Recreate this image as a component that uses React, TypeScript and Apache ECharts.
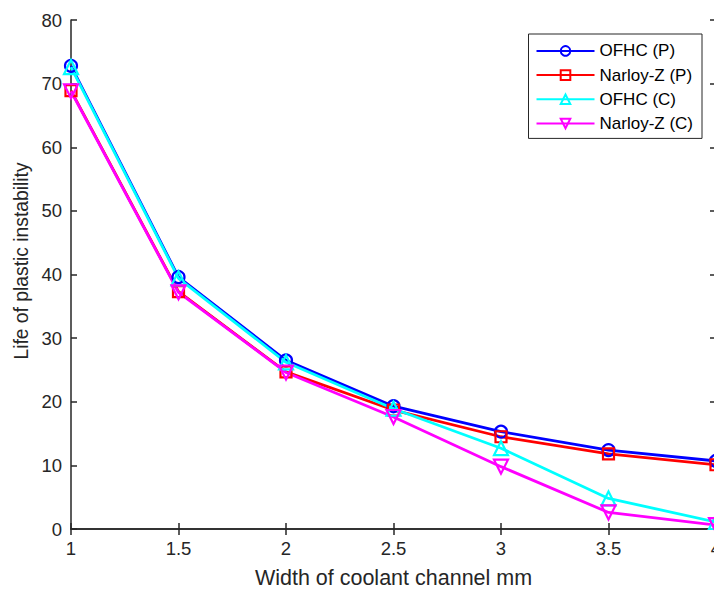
import React, { useEffect, useRef } from "react";
import * as echarts from "echarts";

const widths = [1, 1.5, 2, 2.5, 3, 3.5, 4];
const ofhcP = [72.8, 39.6, 26.5, 19.3, 15.3, 12.4, 10.7];
const narloyP = [68.9, 37.3, 24.7, 18.7, 14.5, 11.8, 10.1];
const ofhcC = [72.6, 39.4, 26.2, 18.9, 12.7, 4.8, 1.1];
const narloyC = [68.8, 37.2, 24.6, 17.6, 9.8, 2.6, 0.6];
const seriesNames = ["OFHC (P)", "Narloy-Z (P)", "OFHC (C)", "Narloy-Z (C)"];
const seriesColors = ["#0000ff", "#ff0000", "#00ffff", "#ff00ff"];
const seriesSymbols = ["circle", "rect", "triangle", "triangle"];
const seriesRotate = [0, 0, 0, 180];
const seriesSizes = [12, 11, 14, 14];
const xTitle = "Width of coolant channel mm";
const yTitle = "Life of plastic instability";

const FONT = "'Liberation Sans', Arial, sans-serif";
const AX = "#262626";

export default function App() {
  const ref = useRef<HTMLDivElement>(null);
  useEffect(() => {
    if (!ref.current) return;
    const chart = echarts.init(ref.current, undefined, { renderer: "svg" });
    const all = [ofhcP, narloyP, ofhcC, narloyC];
    const series = all.map((vals, i) => ({
      name: seriesNames[i],
      type: "line",
      data: widths.map((w, j) => [w, vals[j]]),
      symbol: seriesSymbols[i],
      symbolSize: seriesSizes[i],
      symbolRotate: seriesRotate[i],
      showAllSymbol: true,
      lineStyle: { color: seriesColors[i], width: 2.8 },
      itemStyle: { color: "transparent", borderColor: seriesColors[i], borderWidth: 2.2 },
      emphasis: { disabled: true },
      clip: false,
    }));
    const axisCommon = {
      axisLine: { show: true, lineStyle: { color: AX, width: 1.5 } },
      axisTick: { show: true, inside: true, length: 6, lineStyle: { color: AX, width: 1.5 } },
      splitLine: { show: false },
    };
    chart.setOption({
      animation: false,
      backgroundColor: "#ffffff",
      textStyle: { fontFamily: FONT },
      grid: { left: 71, right: -2, top: 20, bottom: 61, containLabel: false, outerBoundsMode: "none" },
      legend: {
        orient: "vertical",
        right: 12,
        top: 34,
        data: seriesNames,
        itemWidth: 58,
        itemHeight: 12,
        itemGap: 7.2,
        padding: [8.4, 9, 6.4, 7],
        backgroundColor: "#ffffff",
        borderColor: AX,
        borderWidth: 1,
        borderRadius: 0,
        textStyle: { fontFamily: FONT, fontSize: 17, color: "#000000" },
        selectedMode: false,
      },
      graphic: [
        {
          type: "text",
          x: 21,
          y: 261,
          rotation: Math.PI / 2,
          style: {
            text: yTitle,
            font: `19.3px ${FONT}`,
            fill: AX,
            textAlign: "center",
            textVerticalAlign: "middle",
          },
        },
      ],
      xAxis: [
        {
          type: "value",
          min: 1,
          max: 4,
          interval: 0.5,
          position: "bottom",
          name: xTitle,
          nameLocation: "middle",
          nameGap: 38,
          nameTextStyle: { fontFamily: FONT, fontSize: 21.5, color: AX },
          axisLabel: { fontFamily: FONT, fontSize: 18.5, color: AX, margin: 10 },
          ...axisCommon,
        },
        {
          type: "value",
          min: 1,
          max: 4,
          interval: 0.5,
          position: "top",
          axisLabel: { show: false },
          ...axisCommon,
        },
      ],
      yAxis: [
        {
          type: "value",
          min: 0,
          max: 80,
          interval: 10,
          position: "left",
          axisLabel: { fontFamily: FONT, fontSize: 18.5, color: AX, margin: 9 },
          ...axisCommon,
        },
        {
          type: "value",
          min: 0,
          max: 80,
          interval: 10,
          position: "right",
          axisLabel: { show: false },
          ...axisCommon,
        },
      ],
      series,
    });
    return () => chart.dispose();
  }, []);
  return <div ref={ref} style={{ width: 714, height: 590, position: "absolute", left: 0, top: 0 }} />;
}
